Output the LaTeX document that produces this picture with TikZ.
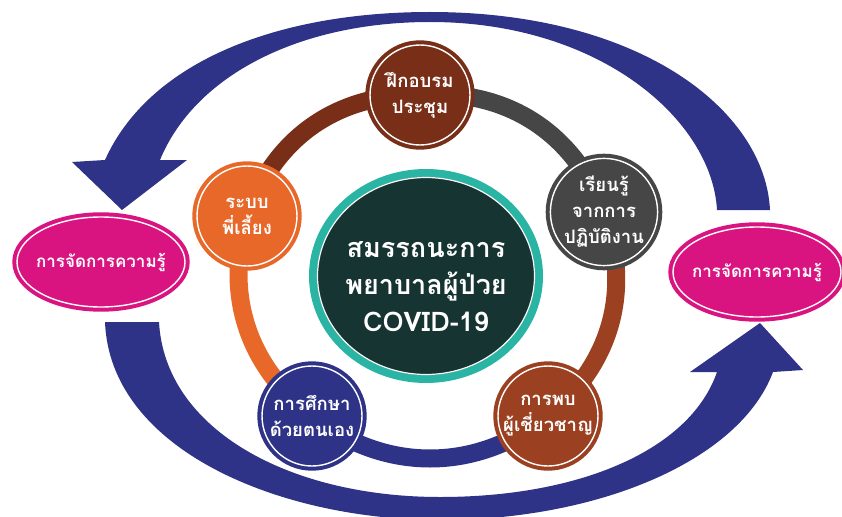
\documentclass[tikz,border=0pt]{standalone}
\usepackage{fontspec}
\newfontfamily\thaifont[Script=Thai]{Loma}
\usetikzlibrary{shapes.geometric,backgrounds}
\definecolor{navy}{RGB}{46,51,135}
\definecolor{kmpink}{RGB}{217,20,128}
\definecolor{orangeA}{RGB}{232,104,42}
\definecolor{brownA}{RGB}{120,46,23}
\definecolor{greyA}{RGB}{70,70,70}
\definecolor{sienna}{RGB}{155,65,33}
\definecolor{tealA}{RGB}{42,180,163}
\definecolor{coredark}{RGB}{22,52,50}
\begin{document}
\begin{tikzpicture}[x=1pt,y=-1pt]
  \tikzset{topic/.style={circle,fill=#1,draw=#1,line width=4pt,double=white,double distance=1.4pt,minimum size=100pt,inner sep=0pt,align=center,text=white,font=\thaifont\bfseries\fontsize{18.5}{26}\selectfont}}
  \tikzset{km/.style={ellipse,fill=kmpink,draw=kmpink,line width=4pt,double=white,double distance=1.4pt,minimum width=168pt,minimum height=90pt,inner sep=-8pt,text=white,font=\thaifont\bfseries\fontsize{17}{20}\selectfont}}
  \tikzset{ring/.style={draw=#1,line width=18pt}}
  \useasboundingbox (0,0) rectangle (842,516);

  % big arrows
  \fill[navy] (770,210) .. controls (765,110) and (640,12) .. (430,12)
    .. controls (280,12) and (150,60) .. (105,160) -- (72,162) -- (122,210) -- (187,160) -- (160,160)
    .. controls (195,75) and (300,22) .. (430,22)
    .. controls (600,22) and (712,120) .. (717,210) -- cycle;
  \fill[navy] (105,322) .. controls (110,450) and (280,520) .. (440,520)
    .. controls (600,520) and (740,460) .. (773,372) -- (803,370) -- (760,323) -- (690,372) -- (717,372)
    .. controls (690,450) and (580,497) .. (440,497)
    .. controls (290,497) and (165,430) .. (159,322) -- cycle;

  \node[km] (kmL) at (101,262) {การจัดการความรู้};
  \node[km] (kmR) at (757,272) {การจัดการความรู้};

  \node[topic=brownA] (train) at (420,95) {ฝึกอบรม\\ประชุม};
  \node[topic=greyA] (practice) at (604,212) {เรียนรู้\\จากการ\\ปฏิบัติงาน};
  \node[topic=sienna] (expert) at (548,416) {การพบ\\ผู้เชี่ยวชาญ};
  \node[topic=navy] (self) at (312,416) {การศึกษา\\ด้วยตนเอง};
  \node[topic=orangeA] (mentor) at (247,216) {ระบบ\\พี่เลี้ยง};

  \node[ellipse,fill=coredark,draw=tealA,line width=8pt,minimum width=226pt,minimum height=206pt] (core) at (426,276) {};
  \draw[white,line width=1.2pt] (core.center) ellipse [x radius=108.5pt,y radius=98.5pt];
  \node[align=center,text=white,font=\thaifont\bfseries\fontsize{27}{37}\selectfont] (title) at ([yshift=-11pt]core.center) {สมรรถนะการ\\พยาบาลผู้ป่วย\\COVID-19};

  \begin{scope}[on background layer]
    \draw[ring=brownA] (mentor.center) to[bend left=36] (train.center);
    \draw[ring=greyA] (train.center) to[bend left=37] (practice.center);
    \draw[ring=sienna] (practice.center) to[bend left=35] (expert.center);
    \draw[ring=navy] (expert.center) to[bend left=38] (self.center);
    \draw[ring=orangeA] (self.center) to[bend left=34] (mentor.center);
  \end{scope}
\end{tikzpicture}
\end{document}
